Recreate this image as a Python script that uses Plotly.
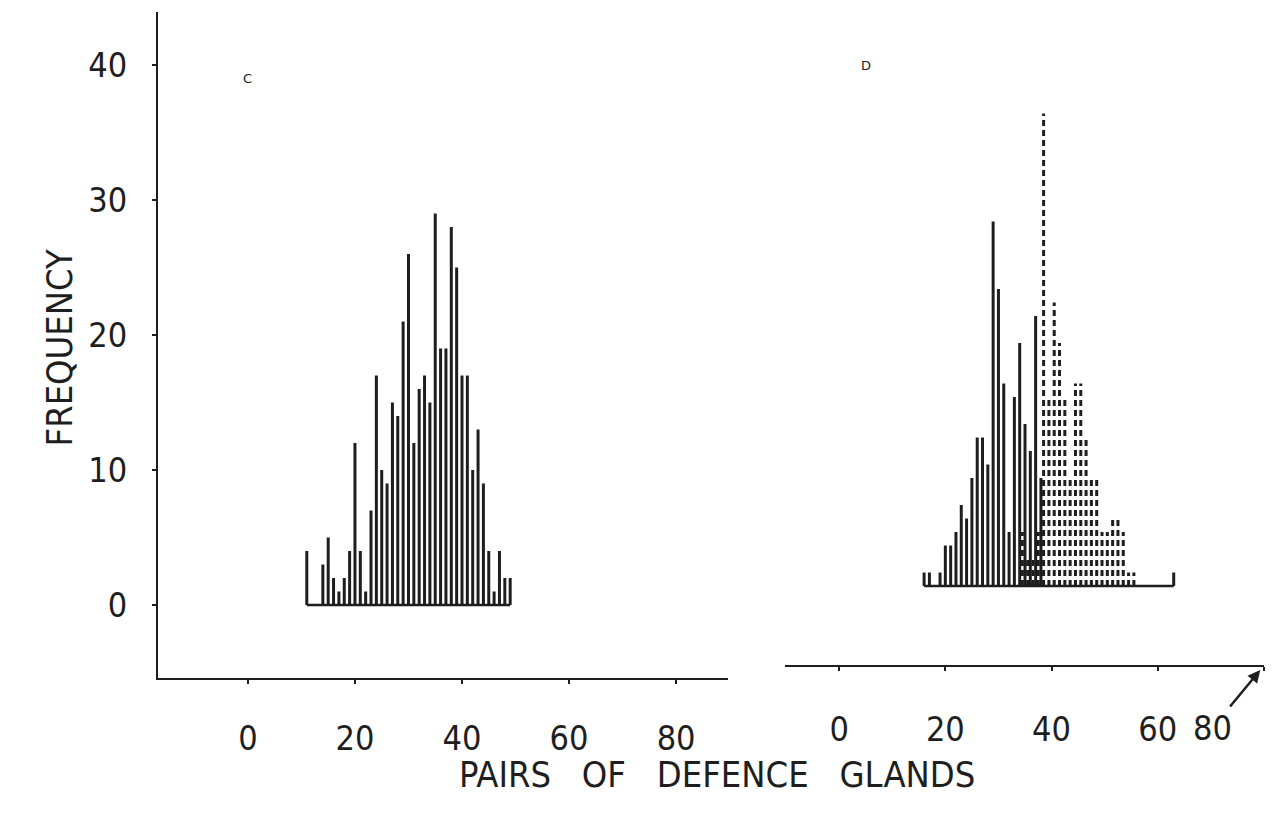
import plotly.graph_objects as go

# ---------------- data ----------------
# Panel C : one histogram (solid stems)
c_glands = [11, 12, 13, 14, 15, 16, 17, 18, 19, 20, 21, 22, 23, 24, 25, 26, 27, 28, 29, 30,
            31, 32, 33, 34, 35, 36, 37, 38, 39, 40, 41, 42, 43, 44, 45, 46, 47, 48, 49]
c_freq = [4, 0, 0, 3, 5, 2, 1, 2, 4, 12, 4, 1, 7, 17, 10, 9, 15, 14, 21, 26,
          12, 16, 17, 15, 29, 19, 19, 28, 25, 17, 17, 10, 13, 9, 4, 1, 4, 2, 2]

# Panel D : solid histogram
d_solid_glands = [16, 17, 18, 19, 20, 21, 22, 23, 24, 25, 26, 27, 28, 29, 30, 31, 32, 33,
                  34, 35, 36, 37, 38, 63]
d_solid_freq = [1, 1, 0, 1, 3, 3, 4, 6, 5, 8, 11, 11, 9, 27, 22, 15, 4, 14,
                18, 12, 10, 20, 8, 1]

# Panel D : dashed histogram
d_dash_glands = [34.5, 35.5, 36.5, 37.5, 38.5, 39.5, 40.5, 41.5, 42.5, 43.5, 44.5,
                 45.5, 46.5, 47.5, 48.5, 49.5, 50.5, 51.5, 52.5, 53.5, 54.5, 55.5]
d_dash_freq = [4, 2, 2, 4, 35, 14, 21, 18, 14, 8, 15,
               15, 11, 8, 8, 4, 4, 5, 5, 4, 1, 1]

y_ticks = [0, 10, 20, 30, 40]
x_ticks = [0, 20, 40, 60, 80]
c_tick_text = ["0", "20", "40", "60", "80"]
d_tick_text = ["0", "20", "40", "60", ""]

INK = "#1e1e1e"
FONT = "Liberation Sans Narrow, DejaVu Sans Condensed, Roboto, sans-serif"
FS = 34


def stems(xs, ys):
    px, py = [], []
    for x, y in zip(xs, ys):
        if y <= 0:
            continue
        px += [x, x, None]
        py += [0, y, None]
    return px, py


fig = go.Figure()

cx, cy = stems(c_glands, c_freq)
fig.add_trace(go.Scatter(x=cx, y=cy, mode="lines", xaxis="x", yaxis="y",
                         line=dict(color=INK, width=3), hoverinfo="skip"))
fig.add_trace(go.Scatter(x=[min(c_glands), max(c_glands)], y=[0, 0], mode="lines",
                         xaxis="x", yaxis="y", line=dict(color=INK, width=2.5),
                         hoverinfo="skip"))

dx, dy = stems(d_dash_glands, d_dash_freq)
fig.add_trace(go.Scatter(x=dx, y=dy, mode="lines", xaxis="x2", yaxis="y2",
                         line=dict(color=INK, width=3, dash="6px,4px"),
                         hoverinfo="skip"))
sx, sy = stems(d_solid_glands, d_solid_freq)
fig.add_trace(go.Scatter(x=sx, y=sy, mode="lines", xaxis="x2", yaxis="y2",
                         line=dict(color=INK, width=3), hoverinfo="skip"))
fig.add_trace(go.Scatter(x=[min(d_solid_glands), max(d_solid_glands)], y=[0, 0],
                         mode="lines", xaxis="x2", yaxis="y2",
                         line=dict(color=INK, width=2.5), hoverinfo="skip"))

W, H = 1280, 830
axis_common = dict(showline=True, linecolor=INK, linewidth=2, ticks="outside",
                   ticklen=4, tickwidth=2, tickcolor=INK, showgrid=False,
                   zeroline=False, tickfont=dict(family=FONT, size=FS, color=INK),
                   fixedrange=True)

fig.update_layout(
    width=W, height=H,
    margin=dict(l=0, r=0, t=0, b=0),
    paper_bgcolor="white", plot_bgcolor="white",
    showlegend=False,
    xaxis=dict(domain=[158 / W, 728 / W], range=[-16.8, 89.7], anchor="y",
               tickvals=x_ticks, ticktext=c_tick_text, ticklabelstandoff=25,
               **axis_common),
    yaxis=dict(domain=[(H - 678) / H, (H - 12) / H], range=[-5.41, 43.93],
               anchor="x", tickvals=y_ticks, ticklabelstandoff=18, **axis_common),
    xaxis2=dict(domain=[785 / W, 1264 / W], range=[-10.19, 80], anchor="y2",
                tickvals=x_ticks, ticktext=d_tick_text, ticklabelstandoff=29,
                **axis_common),
    yaxis2=dict(domain=[(H - 665) / H, (H - 12) / H], range=[-5.85, 42.52],
                anchor="x2", visible=False, fixedrange=True),
)

fig.add_annotation(text="C", x=0, y=39, xref="x", yref="y", showarrow=False,
                   font=dict(family="DejaVu Sans", size=13, color=INK))
fig.add_annotation(text="D", x=5, y=40, xref="x2", yref="y", showarrow=False,
                   font=dict(family="DejaVu Sans", size=13, color=INK))
fig.add_annotation(text="80", x=79.3, y=(H - 670) / H, xref="x2", yref="paper",
                   showarrow=True, arrowhead=2, arrowsize=1, arrowwidth=2.5,
                   arrowcolor=INK, ax=-48, ay=58,
                   font=dict(family=FONT, size=FS, color=INK))
fig.add_annotation(text="FREQUENCY", x=36 / W, y=1 - 348 / H, xref="paper",
                   yref="paper", showarrow=False, textangle=-90,
                   font=dict(family=FONT, size=36, color=INK))
fig.add_annotation(text="PAIRS\u00a0\u00a0\u00a0OF\u00a0\u00a0\u00a0DEFENCE\u00a0\u00a0\u00a0GLANDS",
                   x=717 / W, y=1 - 797 / H, xref="paper", yref="paper",
                   showarrow=False, font=dict(family=FONT, size=36, color=INK))

fig.write_html("out.html")
